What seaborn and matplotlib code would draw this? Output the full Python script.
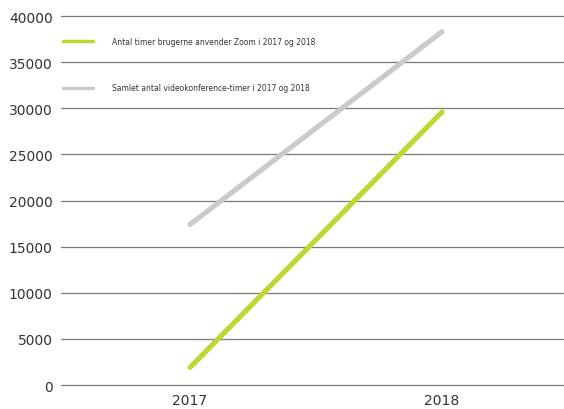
import matplotlib
matplotlib.use("Agg")
import matplotlib.pyplot as plt
import seaborn as sns
import pandas as pd

years = ["2017", "2018"]
zoom_hours = [1900, 29600]
total_hours = [17400, 38300]
label_zoom = "Antal timer brugerne anvender Zoom i 2017 og 2018"
label_total = "Samlet antal videokonference-timer i 2017 og 2018"
yticks = [0, 5000, 10000, 15000, 20000, 25000, 30000, 35000, 40000]

df = pd.DataFrame({
    "year": years * 2,
    "hours": zoom_hours + total_hours,
    "series": [label_zoom] * 2 + [label_total] * 2,
})

sns.set_style("white")
plt.rcParams["font.family"] = ["DejaVu Sans"]

fig = plt.figure(figsize=(5.64, 4.10), dpi=100)
ax = fig.add_axes([0.108, 0.0585, 0.892, 0.9])

for y in yticks:
    ax.axhline(y, color="#7a7a7a", lw=0.9, zorder=0, clip_on=False)

sns.lineplot(data=df, x="year", y="hours", hue="series",
             palette={label_zoom: "#bfd730", label_total: "#cacaca"},
             lw=3.7, ax=ax, sort=False, solid_capstyle="round", zorder=3)

ax.set_xlim(-0.512, 1.484)
ax.set_ylim(0, 40000)
ax.set_yticks(yticks)
ax.set_yticklabels([str(v) for v in yticks], fontsize=10, color="#333333")
ax.tick_params(axis="x", labelsize=10, colors="#333333", length=0, pad=6)
ax.tick_params(axis="y", length=0, pad=6)
ax.set_xlabel("")
ax.set_ylabel("")
for s in ax.spines.values():
    s.set_visible(False)

leg = ax.legend(loc="upper left", bbox_to_anchor=(0.005, 0.944), frameon=False,
                fontsize=5.5, handlelength=3.9, handletextpad=2.5,
                labelspacing=4.95, borderaxespad=0, borderpad=0)
for line in leg.get_lines():
    line.set_linewidth(2.5)
for t in leg.get_texts():
    t.set_color("#333333")

fig.savefig("out.png", dpi=100)
